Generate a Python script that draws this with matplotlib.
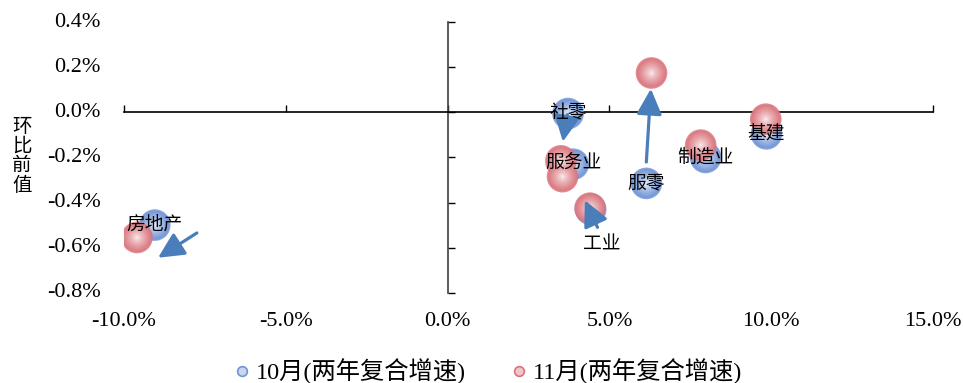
import numpy as np
import matplotlib
matplotlib.use("Agg")
import matplotlib.pyplot as plt
from matplotlib.patches import FancyArrowPatch
from matplotlib.lines import Line2D
from matplotlib.colors import to_rgb

plt.rcParams['font.family'] = ['Liberation Serif', 'Noto Sans CJK SC', 'DejaVu Sans']

# 行业
names = ['房地产', '社零', '服务业', '工业', '服零', '制造业', '基建']
# 10月 (两年复合增速, 环比前值), 单位 %
oct_x = [-9.05, 3.72, 3.88, 4.42, 6.14, 7.97, 9.85]
oct_y = [-0.50, -0.005, -0.23, -0.43, -0.315, -0.20, -0.095]
# 11月
nov_x = [-9.6, 3.5, 3.55, 4.40, 6.30, 7.82, 9.83]
nov_y = [-0.555, -0.215, -0.285, -0.425, 0.175, -0.145, -0.03]

# 箭头 (起点 -> 终点)
arrow_start = [(-7.75, -0.535), (3.70, -0.01), (4.63, -0.51), (6.14, -0.22)]
arrow_end = [(-8.95, -0.645), (3.56, -0.13), (4.24, -0.39), (6.28, 0.105)]

xticks = [-10, -5, 0, 5, 10, 15]
yticks = [0.4, 0.2, 0.0, -0.2, -0.4, -0.6, -0.8]

blue = '#6f93d6'
red = '#d9737b'
arrow_c = '#4a7ebb'

fig = plt.figure(figsize=(9.63, 3.83), dpi=100)
ax = fig.add_axes([0.1288, 0.2358, 0.8401, 0.706])
ax.set_xlim(-10, 15)
ax.set_ylim(-0.8, 0.4)

for s in ['top', 'right']:
    ax.spines[s].set_visible(False)
ax.spines['left'].set_position(('data', 0))
ax.spines['bottom'].set_position(('data', 0))
ax.spines['left'].set_color('#404040')
ax.spines['left'].set_linewidth(1.2)
ax.spines['bottom'].set_color('black')
ax.spines['bottom'].set_linewidth(1.2)
ax.set_xticks(xticks)
ax.set_yticks(yticks)
ax.tick_params(axis='x', direction='in', length=5, width=1, labelbottom=False)
ax.tick_params(axis='y', direction='in', length=5, width=1, labelleft=False)

for xv in xticks:
    ax.annotate(f'{xv:.1f}%', xy=(xv, 0), xycoords=ax.get_xaxis_transform(),
                xytext=(0, -21), textcoords='offset points',
                ha='center', va='center', fontsize=16)
for yv in yticks:
    ax.annotate(f'{yv:.1f}%', xy=(0, yv), xycoords=ax.get_yaxis_transform(),
                xytext=(-17, 0), textcoords='offset points',
                ha='right', va='center', fontsize=16)

fig.text(0.023, 0.59, '环\n比\n前\n值', ha='center', va='center',
         fontsize=14, linespacing=1.15)


def sphere(xs, ys, color, z):
    c = np.array(to_rgb(color))
    n = 14
    for i in range(n):
        f = 1 - i / n
        col = c * f ** 0.7 + np.ones(3) * (1 - f ** 0.7)
        ax.scatter(xs, ys, s=520 * f ** 2, color=col, alpha=0.8 if i == 0 else 0.9,
                   edgecolors='none', zorder=z)


sphere(oct_x, oct_y, blue, 3)
sphere(nov_x, nov_y, red, 4)

for (x0, y0), (x1, y1) in zip(arrow_start, arrow_end):
    ar = FancyArrowPatch((x0, y0), (x1, y1), arrowstyle='-|>,head_length=0.65,head_width=0.32',
                         mutation_scale=24, lw=2.3, color=arrow_c, zorder=6,
                         shrinkA=0, shrinkB=0)
    ax.add_patch(ar)

label_off = {'工业': (8, -26)}
for nm, x, y in zip(names, oct_x, oct_y):
    ax.annotate(nm, xy=(x, y), xytext=label_off.get(nm, (0, 0)), textcoords='offset points',
                ha='center', va='center', fontsize=13.5, zorder=7)

handles = [
    Line2D([], [], ls='', marker='o', ms=7, mfc='#c9d6f0', mec=blue, mew=1.2),
    Line2D([], [], ls='', marker='o', ms=7, mfc='#f0c6c9', mec=red, mew=1.2),
]
fig.legend(handles, ['10月(两年复合增速)', '11月(两年复合增速)'], loc='center',
           bbox_to_anchor=(0.507, 0.03), ncol=2, frameon=False, fontsize=17.5,
           handletextpad=0.25, columnspacing=1.9, handlelength=0.6)

fig.savefig('out.png', dpi=100)
